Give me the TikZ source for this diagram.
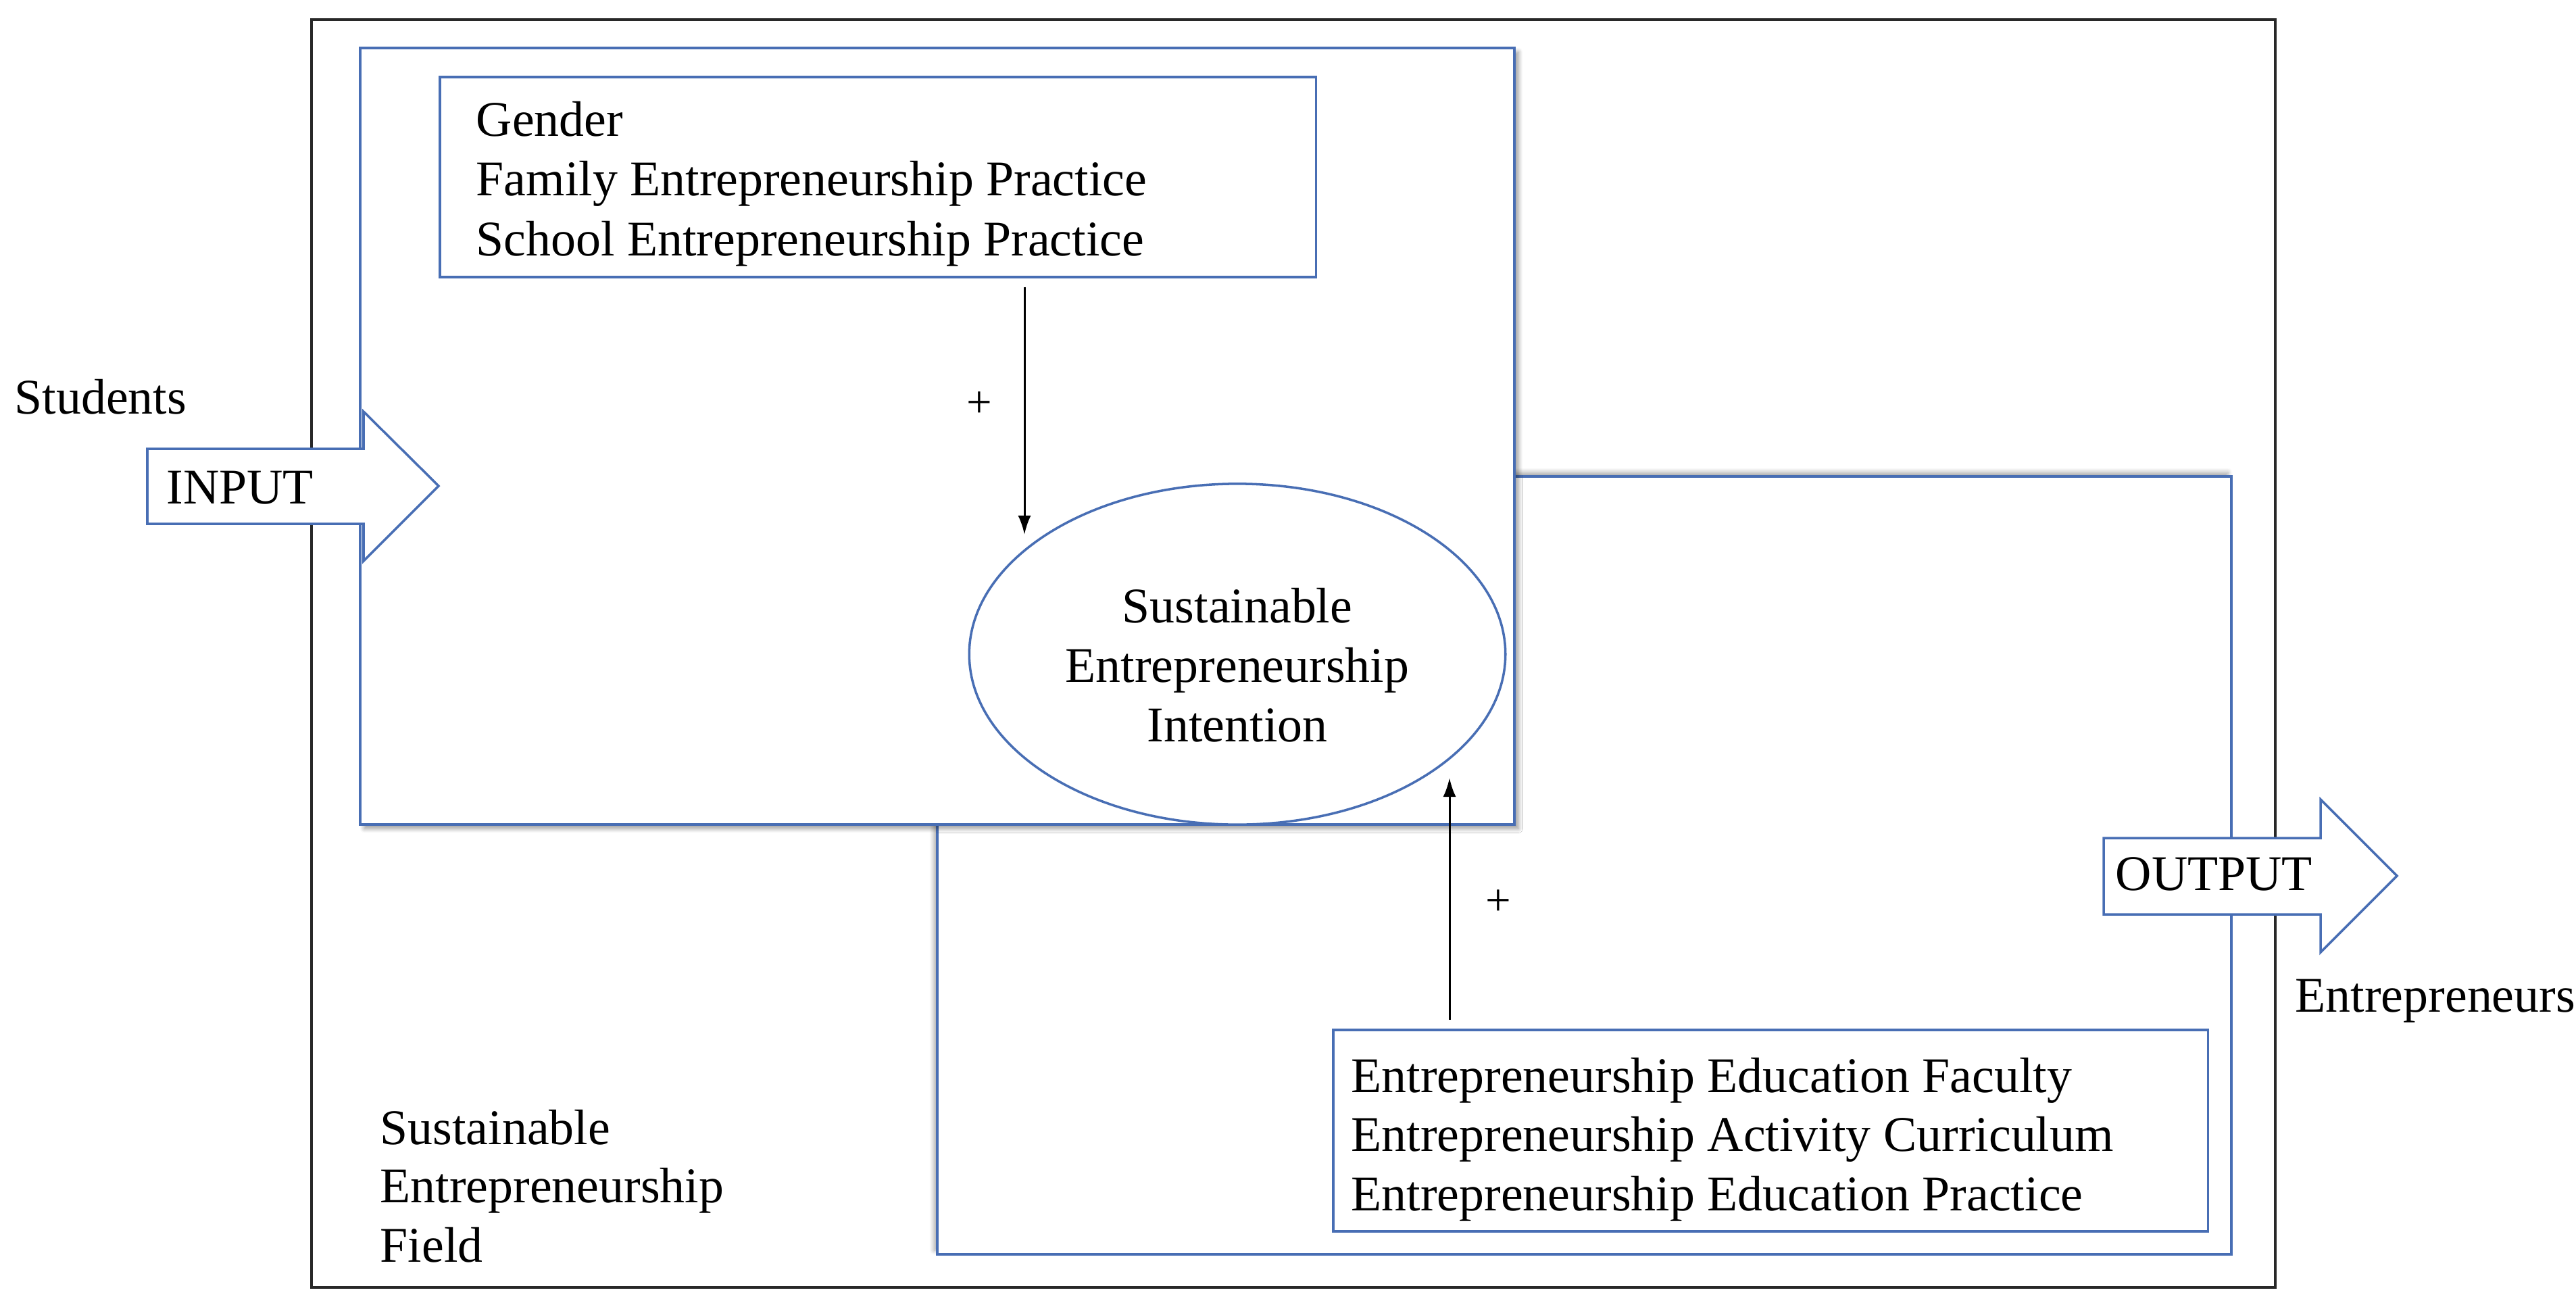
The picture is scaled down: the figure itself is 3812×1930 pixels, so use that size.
\documentclass[tikz,border=0pt]{standalone}
\usepackage{fontspec}
\setmainfont{Liberation Serif}
\usetikzlibrary{arrows.meta,shapes.geometric,shadows.blur}
\definecolor{boxblue}{RGB}{72,110,180}
\definecolor{frameblack}{RGB}{40,40,40}
\tikzset{
  frame/.style={draw=frameblack,line width=1pt},
  bluebox/.style={draw=boxblue,line width=1pt,fill=white},
  txt/.style={inner sep=0pt,anchor=base west,font=\fontsize{21pt}{25pt}\selectfont},
  ctxt/.style={inner sep=0pt,anchor=base,font=\fontsize{21pt}{25pt}\selectfont},
  plus/.style={inner sep=0pt,font=\fontsize{19pt}{22pt}\selectfont},
  conn/.style={draw=black,line width=0.85pt,-{Latex[length=0.28cm,width=0.19cm]}},
  bigarrow/.style={draw=boxblue,line width=1pt,fill=white,line join=miter}
}
\begin{document}
\begin{tikzpicture}[x=0.01cm,y=-0.01cm]
\useasboundingbox (0,0) rectangle (3812,1930);
% outer field frame
\draw[frame] (461,29) rectangle (3367,1905);
% lower-right box (behind)
\draw[bluebox,blur shadow={shadow xshift=-0.05cm,shadow yshift=0.06cm,shadow opacity=35,shadow blur steps=6}] (1387,705) rectangle (3302,1856);
% upper-left box (front)
\draw[bluebox,blur shadow={shadow xshift=0.06cm,shadow yshift=-0.06cm,shadow opacity=40,shadow blur steps=6}] (533,71) rectangle (2241,1220);
% top factor box
\node[bluebox,minimum width=12.96cm,minimum height=2.96cm,anchor=north west,inner sep=0pt] (topbox) at (649,112) {};
\node[txt] (g1) at (704,201) {Gender};
\node[txt] (g2) at (704,289) {Family Entrepreneurship Practice};
\node[txt] (g3) at (704,378) {School Entrepreneurship Practice};
% ellipse
\node[draw=boxblue,line width=1pt,fill=white,ellipse,minimum width=7.93cm,minimum height=5.04cm,inner sep=0pt] (sei) at (1831,968) {};
\node[ctxt] (e1) at (1831,921) {Sustainable};
\node[ctxt] (e2) at (1831,1009) {Entrepreneurship};
\node[ctxt] (e3) at (1831,1097) {Intention};
% bottom factor box
\node[bluebox,minimum width=12.94cm,minimum height=2.98cm,anchor=north west,inner sep=0pt] (botbox) at (1971,1522) {};
\node[txt] (b1) at (1999,1616) {Entrepreneurship Education Faculty};
\node[txt] (b2) at (1999,1703) {Entrepreneurship Activity Curriculum};
\node[txt] (b3) at (1999,1791) {Entrepreneurship Education Practice};
% connectors
\coordinate (t1) at (1516,791);
\coordinate (t2) at (2145,1151);
\draw[conn] ([yshift=-0.13cm]topbox.south -| t1) -- (t1);
\draw[conn] ([yshift=0.13cm]botbox.north -| t2) -- (t2);
\node[plus] (p1) at (1449,599) {+};
\node[plus] (p2) at (2217,1336) {+};
% INPUT arrow
\draw[bigarrow] (218,664) -- (538,664) -- (538,609) -- (649,719) -- (538,830) -- (538,775) -- (218,775) -- cycle;
\node[txt] (inp) at (246,745) {INPUT};
\node[txt] (stu) at (21,612) {Students};
% OUTPUT arrow
\draw[bigarrow] (3113,1240) -- (3434,1240) -- (3434,1183) -- (3547,1296) -- (3434,1409) -- (3434,1353) -- (3113,1353) -- cycle;
\node[txt] (outp) at (3130,1317) {OUTPUT};
\node[txt] (ent) at (3396,1497) {Entrepreneurs};
% field label
\node[txt] (f1) at (562,1693) {Sustainable};
\node[txt] (f2) at (562,1779) {Entrepreneurship};
\node[txt] (f3) at (562,1867) {Field};
\end{tikzpicture}
\end{document}
